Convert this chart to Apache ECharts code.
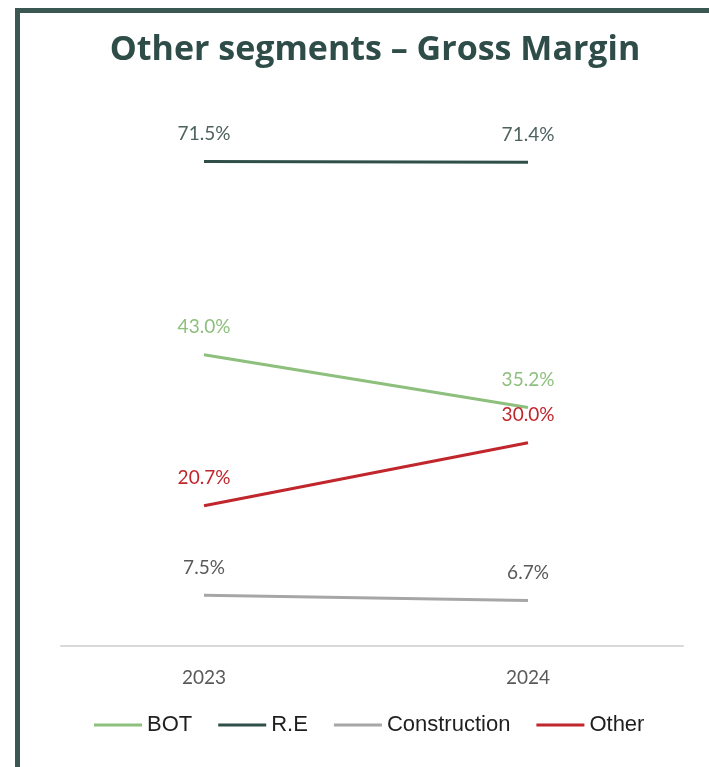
<!DOCTYPE html>
<html>
<head>
<meta charset="utf-8">
<script src="https://cdn.jsdelivr.net/npm/echarts@6/dist/echarts.min.js"></script>
<style>
  html, body { margin: 0; padding: 0; background: #fff; }
  #frame {
    position: absolute; left: 15px; top: 8px; width: 694px; height: 759px;
    border-top: 5px solid #3a5752; border-left: 5px solid #3a5752;
    box-sizing: border-box;
  }
  #main { position: absolute; left: 0; top: 0; width: 709px; height: 767px; }
</style>
</head>
<body>
<div id="frame"></div>
<div id="main"></div>
<script>
const years = ['2023', '2024']
const bot = [43.0, 35.2]
const re = [71.5, 71.4]
const construction = [7.5, 6.7]
const other = [20.7, 30.0]

const chart = echarts.init(document.getElementById('main'))

const mkSeries = (name, data, color, labelColor) => ({
  name: name,
  type: 'line',
  data: data,
  xAxisIndex: 0,
  yAxisIndex: 0,
  symbol: 'circle',
  symbolSize: 0,
  color: color,
  lineStyle: { width: 3, color: color },
  label: {
    show: true,
    position: 'top',
    distance: 18,
    color: labelColor,
    fontFamily: 'Lato',
    fontSize: 19,
    formatter: p => p.value.toFixed(1) + '%'
  },
  emphasis: { disabled: true },
  animation: false
})

const option = {
  graphic: [{
    type: 'text',
    x: 375,
    y: 50,
    style: {
      text: 'Other segments – Gross Margin',
      fill: '#2f4d48',
      font: 'bold 34px "Open Sans"',
      textAlign: 'center',
      textVerticalAlign: 'middle'
    }
  }],
  legend: {
    left: 89,
    top: 709,
    icon: 'rect',
    itemWidth: 48,
    itemHeight: 3,
    itemGap: 26,
    textStyle: { fontFamily: 'Liberation Sans', fontSize: 22, color: '#1f1f1f' },
    data: ['BOT', 'R.E', 'Construction', 'Other']
  },
  grid: [
    { left: 42, right: 19, top: 104, bottom: 121 },
    { left: 61, right: 26, top: 104, bottom: 121 }
  ],
  xAxis: [
    {
      type: 'category',
      gridIndex: 0,
      data: years,
      axisLine: { show: false },
      axisTick: { show: false },
      axisLabel: { margin: 22, fontFamily: 'Lato', fontSize: 19, color: '#595959' }
    },
    {
      type: 'category',
      gridIndex: 1,
      data: years,
      axisLine: { lineStyle: { color: '#d9d9d9', width: 2 } },
      axisTick: { show: false },
      axisLabel: { show: false }
    }
  ],
  yAxis: [
    { type: 'value', gridIndex: 0, min: 0, max: 80, show: false },
    { type: 'value', gridIndex: 1, min: 0, max: 80, show: false }
  ],
  series: [
    mkSeries('BOT', bot, '#8dbf7d', '#8dbf7d'),
    mkSeries('R.E', re, '#2f4f48', '#4d625f'),
    mkSeries('Construction', construction, '#a6a6a6', '#595959'),
    mkSeries('Other', other, '#c0262c', '#c0262c')
  ]
}

chart.setOption(option)
</script>
</body>
</html>
